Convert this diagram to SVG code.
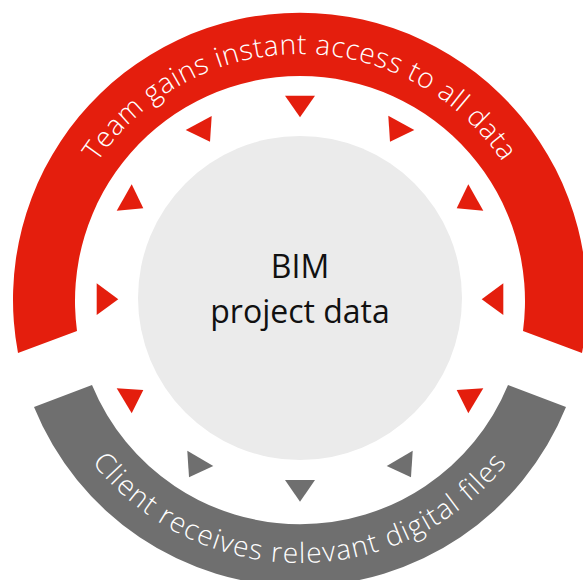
<svg xmlns="http://www.w3.org/2000/svg" width="583" height="580" viewBox="0 0 583 580">
<style>
.red{fill:#E41E0D}
.gray{fill:#6F6F6F}
.arc-label{font-family:"Open Sans","Noto Sans",sans-serif;font-size:28px;font-weight:300;fill:#FFFFFF}
.center-label{font-family:"Open Sans","Noto Sans",sans-serif;font-size:32px;font-weight:400;fill:#111111}
</style>
<defs>
<path id="redTextPath" d="M 56,298 A 244 244 0 0 1 544,298"/>
<path id="grayTextPath" d="M 35,298 A 265 265 0 0 0 565,298"/>
</defs>
<rect width="583" height="580" fill="#FFFFFF"/>
<g id="team-arc">
<path class="red" d="M 18,353 A 287 287 0 1 1 582,353 L 523,331 A 225 225 0 1 0 77,331 Z"/>
<text class="arc-label" text-anchor="middle" letter-spacing="0.6"><textPath href="#redTextPath" startOffset="50%">Team gains instant access to all data</textPath></text>
</g>
<g id="client-arc">
<path class="gray" d="M 34,407 A 287 287 0 0 0 566,407 L 508,385 A 225 225 0 0 1 92,385 Z"/>
<text class="arc-label" text-anchor="middle" letter-spacing="1.3"><textPath href="#grayTextPath" startOffset="50%">Client receives relevant digital files</textPath></text>
</g>
<g id="bim-data">
<circle cx="300" cy="298" r="162" fill="#EBEBEB"/>
<text class="center-label" x="300" y="278" text-anchor="middle">BIM</text>
<text class="center-label" x="300" y="323" text-anchor="middle">project data</text>
</g>
<g id="connectors">
<polygon class="red" points="285,95.7 315,95.7 300,117.3"/>
<polygon class="red" points="388.3,115.7 390,141.7 414.3,130"/>
<polygon class="red" points="468.3,184.3 483.3,210.7 456.7,208.3"/>
<polygon class="red" points="503.3,283.3 503.3,315 481.7,299.3"/>
<polygon class="red" points="483.3,388.3 456.7,390 468.3,413.3"/>
<polygon class="gray" points="412.7,450.7 411,477.3 386.7,466"/>
<polygon class="gray" points="285,480 315,480 300,501.7"/>
<polygon class="gray" points="187.3,450.7 189,477.3 213.3,466"/>
<polygon class="red" points="116.7,388.3 143.3,390 131.7,413.3"/>
<polygon class="red" points="96.7,283.3 96.7,315 118.3,299.3"/>
<polygon class="red" points="131.7,184.3 116.7,210.7 143.3,208.3"/>
<polygon class="red" points="211.7,116 210,141.7 185.7,130"/>
</g>
</svg>
